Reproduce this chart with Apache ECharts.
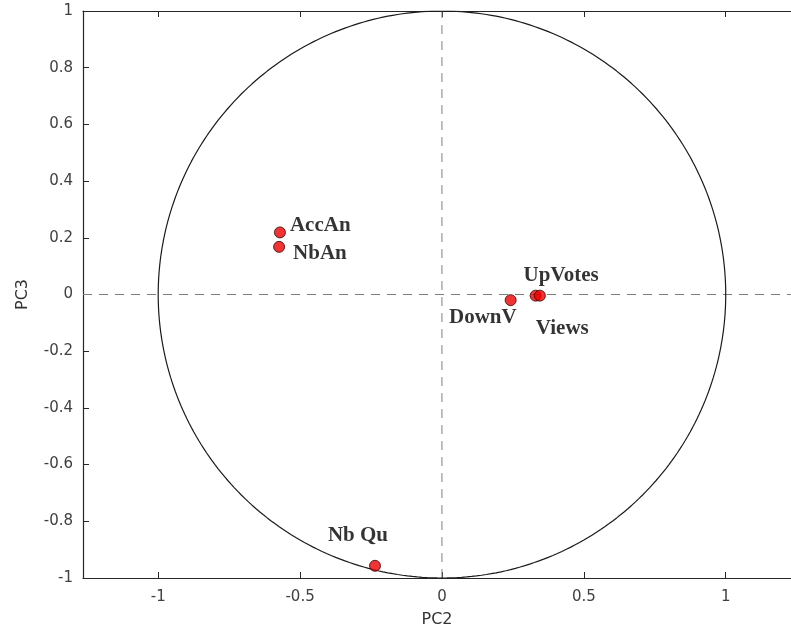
<!DOCTYPE html>
<html><head><meta charset="utf-8">
<script src="https://cdn.jsdelivr.net/npm/echarts@6/dist/echarts.min.js"></script>
<style>html,body{margin:0;padding:0;background:#fff}#c{width:791px;height:633px}</style>
</head><body><div id="c"></div>
<script>
const names = ['AccAn', 'NbAn', 'DownV', 'UpVotes', 'Views', 'Nb Qu'];
const pc2 = [-0.571, -0.574, 0.242, 0.330, 0.345, -0.236];
const pc3 = [0.219, 0.168, -0.020, -0.004, -0.004, -0.957];
const xTicks = [-1, -0.5, 0, 0.5, 1];
// label placement (style only)
const labelOffsets = {
  'AccAn': {offset: [10, -7], align: 'left'},
  'NbAn': {offset: [14, 7], align: 'left'},
  'DownV': {offset: [6, 17], align: 'right'},
  'UpVotes': {offset: [-12, -20], align: 'left'},
  'Views': {offset: [-4, 33], align: 'left'},
  'Nb Qu': {offset: [-17, -30], align: 'center'}
};
// unit correlation circle
const circle = [];
for (let i = 0; i <= 360; i++) { const t = i * Math.PI / 180; circle.push([Math.cos(t), Math.sin(t)]); }

const pts = names.map((n, i) => ({
  value: [pc2[i], pc3[i]],
  name: n,
  label: {show: true, formatter: n, position: 'inside', offset: labelOffsets[n].offset, align: labelOffsets[n].align,
    verticalAlign: 'middle', fontFamily: 'Liberation Serif', fontWeight: 'bold', fontSize: 21, color: '#000'}
}));

const xMin = -1.265, xMax = 1.23;
const axisCommon = {
  axisLine: {show: true, onZero: false, lineStyle: {color: '#262626', width: 1.2}},
  splitLine: {show: false}
};
const chart = echarts.init(document.getElementById('c'));
chart.setOption({
  animation: false,
  grid: {left: 83, top: 11, right: 0, bottom: 53, containLabel: false},
  xAxis: [
    Object.assign({type: 'value', position: 'bottom', min: xMin, max: xMax,
      name: 'PC2', nameLocation: 'middle', nameGap: 34,
      nameTextStyle: {fontFamily: 'DejaVu Sans', fontSize: 16, color: '#333'},
      axisTick: {show: true, inside: true, length: 6, customValues: xTicks, lineStyle: {color: '#262626'}},
      axisLabel: {show: true, customValues: xTicks, margin: 12, fontFamily: 'DejaVu Sans', fontSize: 15, color: '#404040'}
    }, axisCommon),
    Object.assign({type: 'value', position: 'top', min: xMin, max: xMax,
      axisTick: {show: true, inside: true, length: 6, customValues: xTicks, lineStyle: {color: '#262626'}},
      axisLabel: {show: false}
    }, axisCommon)
  ],
  yAxis: [
    Object.assign({type: 'value', position: 'left', min: -1, max: 1, interval: 0.2,
      name: 'PC3', nameLocation: 'middle', nameGap: 52,
      nameTextStyle: {fontFamily: 'DejaVu Sans', fontSize: 16, color: '#333'},
      axisTick: {show: true, inside: true, length: 6, lineStyle: {color: '#262626'}},
      axisLabel: {show: true, margin: 10, fontFamily: 'DejaVu Sans', fontSize: 15, color: '#404040',
        formatter: v => String(Math.round(v * 10) / 10)}
    }, axisCommon)
  ],
  series: [
    {type: 'line', data: circle, showSymbol: false, symbol: 'none', smooth: false,
      lineStyle: {color: '#1a1a1a', width: 1.2}, silent: true, z: 2},
    {type: 'line', data: [[0, -1], [0, 1]], symbol: 'none', lineStyle: {color: '#7f7f7f', type: [9, 7], width: 1}, z: 1},
    {type: 'line', data: [[xMin, 0], [xMax, 0]], symbol: 'none', lineStyle: {color: '#7f7f7f', type: [9, 7], width: 1}, z: 1},
    {type: 'scatter', data: pts, symbolSize: 11,
      itemStyle: {color: '#ee0000', borderColor: '#3a0000', borderWidth: 1}, z: 5}
  ]
});
</script></body></html>
